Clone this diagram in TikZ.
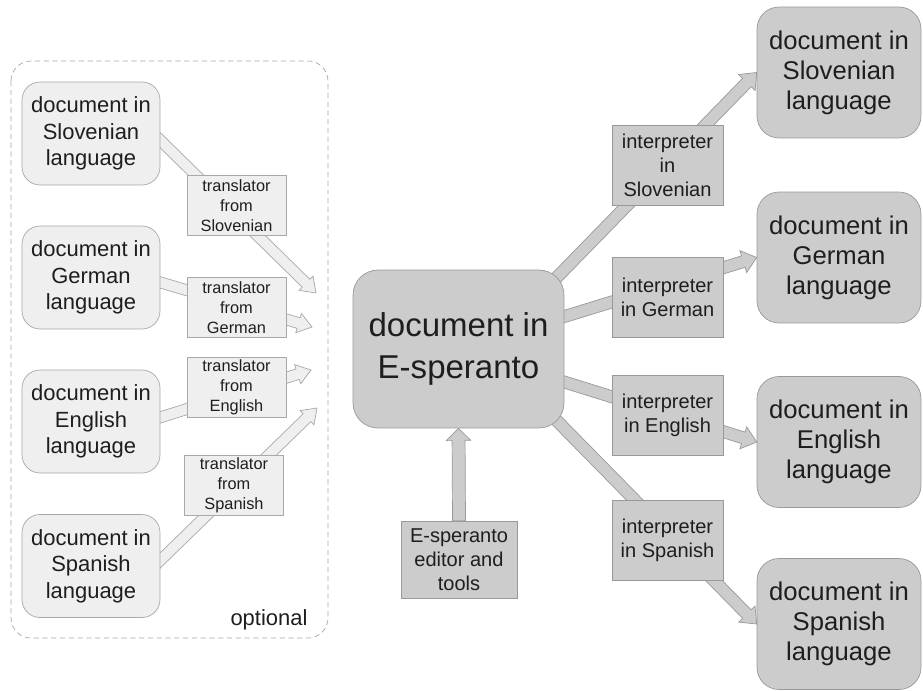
\documentclass[tikz,border=0pt]{standalone}
\usepackage{fontspec}
\setmainfont{Liberation Sans}
\usetikzlibrary{calc,backgrounds}
\definecolor{lightfill}{HTML}{EFEFEF}
\definecolor{lightline}{HTML}{A8A8A8}
\definecolor{darkfill}{HTML}{CCCCCC}
\definecolor{darkline}{HTML}{999999}
\definecolor{textgray}{HTML}{1E1E1E}

\newcommand{\fsz}[2]{\fontsize{#1}{#2}\selectfont}
% fat hollow arrow: shaft half width \arrw, head half width \arrh, head length \arrl
\def\arrw{0.11cm}\def\arrh{0.2cm}\def\arrl{0.28cm}
\newcommand{\fatarrow}[3][]{%
  \coordinate (fatbase) at ($(#3)!\arrl!(#2)$);
  \draw[#1] ($(#2)!\arrw!90:(#3)$) -- ($(fatbase)!\arrw!-90:(#2)$) -- ($(fatbase)!\arrh!-90:(#2)$)
    -- (#3) -- ($(fatbase)!\arrh!90:(#2)$) -- ($(fatbase)!\arrw!90:(#2)$) -- ($(#2)!\arrw!-90:(#3)$) -- cycle;}

\tikzset{
  ldoc/.style={draw=lightline, fill=lightfill, rounded corners=0.36cm, minimum width=2.76cm,
    minimum height=2.06cm, inner sep=0pt, align=center, text=textgray, font=\fsz{12.5}{15.1}},
  transl/.style={draw=lightline, fill=lightfill, minimum width=1.98cm, minimum height=1.2cm,
    inner sep=0pt, align=center, text=textgray, font=\fsz{9.3}{11.4}},
  rdoc/.style={draw=darkline, fill=darkfill, rounded corners=0.44cm, minimum width=3.28cm,
    minimum height=2.62cm, inner sep=0pt, align=center, text=textgray, font=\fsz{14.6}{17.1}},
  interp/.style={draw=darkline, fill=darkfill, minimum width=2.22cm, minimum height=1.6cm,
    inner sep=0pt, align=center, text=textgray, font=\fsz{11.4}{13.7}},
  lightarrow/.style={draw=lightline, fill=lightfill},
  darkarrow/.style={draw=darkline, fill=darkfill}
}

\begin{document}
\begin{tikzpicture}[x=0.02cm, y=-0.02cm]
    \useasboundingbox (0,0) rectangle (923,690);

    % optional translators
    \node[ldoc] (lsl) at (91,133.5) {document in\\Slovenian\\language};
    \node[ldoc] (lde) at (91,277.5) {document in\\German\\language};
    \node[ldoc] (len) at (91,421.5) {document in\\English\\language};
    \node[ldoc] (lsp) at (91,566) {document in\\Spanish\\language};
    \node[transl] (tsl) at (236.5,205.5) {translator\\from\\Slovenian};
    \node[transl] (tde) at (236.5,307.5) {translator\\from\\German};
    \node[transl] (ten) at (236.5,387.5) {translator\\from\\English};
    \node[transl] (tsp) at (234,485.5) {translator\\from\\Spanish};
    \node[text=textgray, font=\fsz{12.5}{15}] (opt) at (269,620) {optional};
    \coordinate (s1) at ($(lsl.east)+(-10,-3)$);
    \coordinate (s2) at ($(lde.east)+(-10,2)$);
    \coordinate (s3) at ($(len.east)+(-10,-1)$);
    \coordinate (s4) at ($(lsp.east)+(-10,4)$);
    \coordinate (t1) at (316,293);
    \coordinate (t2) at (312,327);
    \coordinate (t3) at (311,370);
    \coordinate (t4) at (317,408);

    % E-speranto and interpreters
    \node[draw=darkline, fill=darkfill, rounded corners=0.5cm, minimum width=4.22cm, minimum height=3.16cm,
        align=center, text=textgray, font=\fsz{18.8}{23.9}] (cen) at (458.5,349) {document in\\E-speranto};
    \node[interp, minimum width=2.32cm, minimum height=1.54cm] (ed) at (459,559.5) {E-speranto\\editor and\\tools};
    \node[interp] (isl) at (667.5,165) {interpreter\\in\\Slovenian};
    \node[interp] (ide) at (667.5,297) {interpreter\\in German};
    \node[interp] (ien) at (667.5,415) {interpreter\\in English};
    \node[interp] (isp) at (667.5,540) {interpreter\\in Spanish};
    \node[rdoc] (rsl) at (839,72.5) {document in\\Slovenian\\language};
    \node[rdoc] (rde) at (839,257.5) {document in\\German\\language};
    \node[rdoc] (ren) at (839,442) {document in\\English\\language};
    \node[rdoc] (rsp) at (839,624) {document in\\Spanish\\language};
    \coordinate (csl) at ($(cen.north east)!-0.8cm!(rsl.west)$);
    \coordinate (csp) at ($(cen.south east)!-0.8cm!(rsp.west)$);

    \begin{scope}[on background layer]
        \draw[lightline, dash pattern=on 3pt off 2pt, rounded corners=0.4cm] (11,61) rectangle (328,638);
        \fatarrow[lightarrow]{s1}{t1}
        \fatarrow[lightarrow]{s2}{t2}
        \fatarrow[lightarrow]{s3}{t3}
        \fatarrow[lightarrow]{s4}{t4}
        \def\arrw{0.12cm}\def\arrh{0.23cm}\def\arrl{0.28cm}
        \fatarrow[darkarrow]{csl}{rsl.west}
        \fatarrow[darkarrow]{cen.center}{rde.west}
        \fatarrow[darkarrow]{cen.center}{ren.west}
        \fatarrow[darkarrow]{csp}{rsp.west}
        \def\arrw{0.13cm}\def\arrh{0.24cm}\def\arrl{0.24cm}
        \fatarrow[darkarrow]{ed.north}{cen.south}
    \end{scope}
\end{tikzpicture}
\end{document}
